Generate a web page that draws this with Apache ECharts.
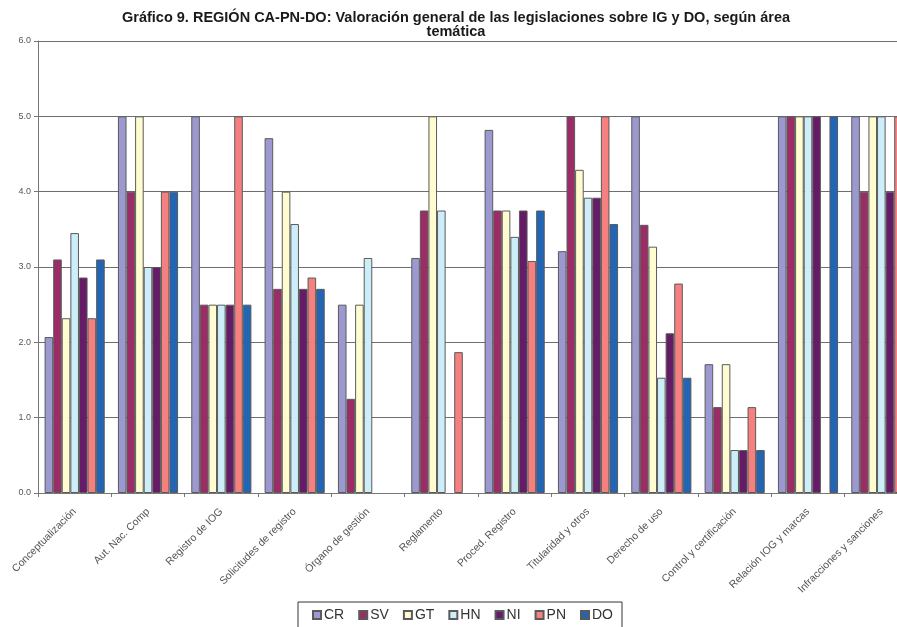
<!DOCTYPE html>
<html>
<head>
<meta charset="utf-8">
<script src="https://cdn.jsdelivr.net/npm/echarts@6/dist/echarts.min.js"></script>
<style>
  html, body { margin: 0; padding: 0; background: #fff; overflow: hidden; width: 897px; height: 627px; }
  /* the chart canvas is wider than the page so the last group runs off the right edge */
  #chart { width: 920px; height: 627px; }
</style>
</head>
<body>
<div id="chart"></div>
<script>
// Thematic areas (x axis)
const categories = [
  'Conceptualización', 'Aut. Nac. Comp', 'Registro de IOG', 'Solicitudes de registro',
  'Órgano de gestión', 'Reglamento', 'Proced. Registro', 'Titularidad y otros',
  'Derecho de uso', 'Control y certificación', 'Relación IOG y marcas', 'Infracciones y sanciones'
];

// Score per country and thematic area (null = no score)
const CR = [2.07, 5, 5, 4.71, 2.5, 3.12, 4.82, 3.21, 5, 1.71, 5, 5];
const SV = [3.1, 4, 2.5, 2.71, 1.25, 3.75, 3.75, 5, 3.56, 1.14, 5, 4];
const GT = [2.32, 5, 2.5, 4, 2.5, 5, 3.75, 4.29, 3.27, 1.71, 5, 5];
const HN = [3.45, 3, 2.5, 3.57, 3.12, 3.75, 3.4, 3.92, 1.53, 0.57, 5, 5];
const NI = [2.86, 3, 2.5, 2.71, null, null, 3.75, 3.92, 2.12, 0.57, 5, 4];
const PN = [2.32, 4, 5, 2.86, null, 1.87, 3.08, 5, 2.78, 1.14, null, 5];
const DO = [3.1, 4, 2.5, 2.71, null, null, 3.75, 3.57, 1.53, 0.57, 5, 5];

const seriesDefs = [
  { name: 'CR', data: CR, color: '#9b99d0' },
  { name: 'SV', data: SV, color: '#9b2c66' },
  { name: 'GT', data: GT, color: '#fffdcf' },
  { name: 'HN', data: HN, color: '#cdeef9' },
  { name: 'NI', data: NI, color: '#651b66' },
  { name: 'PN', data: PN, color: '#f67f7f' },
  { name: 'DO', data: DO, color: '#2265b4' }
];

const yTicks = [0, 1, 2, 3, 4, 5, 6];

const chart = echarts.init(document.getElementById('chart'), null, { renderer: 'canvas' });

chart.setOption({
  animation: false,
  backgroundColor: '#ffffff',
  textStyle: { fontFamily: 'Liberation Sans, Arial, sans-serif' },
  title: {
    text: 'Gráfico 9. REGIÓN CA-PN-DO: Valoración general de las legislaciones sobre IG y DO, según área\ntemática',
    left: 451,
    top: 6,
    textAlign: 'center',
    textStyle: {
      fontSize: 14.5,
      fontWeight: 'bold',
      color: '#1a1a1a',
      lineHeight: 14,
      align: 'center'
    }
  },
  legend: {
    data: seriesDefs.map(s => s.name),
    left: 298,
    top: 602,
    padding: [6, 9, 6, 14],
    itemWidth: 8,
    itemHeight: 8,
    itemGap: 14,
    icon: 'rect',
    borderColor: '#333',
    borderWidth: 1,
    textStyle: { fontSize: 14, color: '#333', padding: [0, 0, 0, -2] }
  },
  grid: {
    left: 38,
    top: 41,
    height: 452,
    width: 880,
    containLabel: false
  },
  xAxis: {
    type: 'category',
    data: categories,
    axisLine: { lineStyle: { color: '#777', width: 1 } },
    axisTick: { show: true, length: 4, alignWithLabel: false, lineStyle: { color: '#777' } },
    axisLabel: {
      interval: 0,
      rotate: 45,
      fontSize: 10.5,
      color: '#555',
      margin: 17
    }
  },
  yAxis: {
    type: 'value',
    min: yTicks[0],
    max: yTicks[yTicks.length - 1],
    interval: 1,
    axisLine: { show: true, lineStyle: { color: '#777', width: 1 } },
    axisTick: { show: true, length: 4, inside: false, lineStyle: { color: '#777' } },
    axisLabel: {
      fontSize: 9,
      color: '#555',
      margin: 7,
      formatter: v => v.toFixed(1)
    },
    splitLine: { show: true, lineStyle: { color: '#6e6e6e', width: 1 } }
  },
  series: seriesDefs.map(s => ({
    name: s.name,
    type: 'bar',
    data: s.data,
    barGap: '0%',
    barCategoryGap: '18%',
    itemStyle: {
      color: s.color,
      borderColor: '#5a5a5a',
      borderWidth: 1
    }
  }))
});
</script>
</body>
</html>
